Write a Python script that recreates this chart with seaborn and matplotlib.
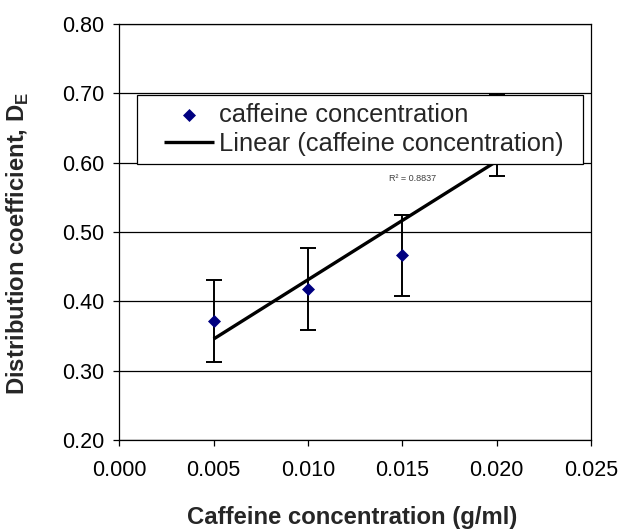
import matplotlib
matplotlib.use("Agg")
import matplotlib.pyplot as plt
from matplotlib.collections import PathCollection
from matplotlib.lines import Line2D
from matplotlib.legend_handler import HandlerLine2D, HandlerPathCollection
import seaborn as sns
import numpy as np
import pandas as pd

# ---- data ----
conc = [0.005, 0.010, 0.015, 0.020]
dist = [0.371, 0.418, 0.466, 0.640]
err = [0.059, 0.059, 0.058, 0.059]
x_ticks = [0.000, 0.005, 0.010, 0.015, 0.020, 0.025]
y_ticks = [0.20, 0.30, 0.40, 0.50, 0.60, 0.70, 0.80]
series_label = "caffeine concentration"
trend_label = "Linear (caffeine concentration)"
r2_text = "R² = 0.8837"

df = pd.DataFrame({"conc": conc, "dist": dist, "err": err})

sns.set_style("white")
plt.rcParams["font.family"] = ["Liberation Sans", "DejaVu Sans"]
plt.rcParams["mathtext.fontset"] = "custom"
plt.rcParams["mathtext.rm"] = "Liberation Sans"
plt.rcParams["mathtext.bf"] = "Liberation Sans:bold"

fig = plt.figure(figsize=(6.21, 5.30), dpi=100)
ax = fig.add_axes([0.192, 0.170, 0.760, 0.785])

# grid lines
for yv in y_ticks:
    ax.axhline(yv, color="black", lw=0.9, zorder=0.5)

# error bars
ax.errorbar(df["conc"], df["dist"], yerr=df["err"], fmt="none", ecolor="black",
            elinewidth=1.4, capsize=5.8, capthick=1.4, zorder=2)
# points
sns.scatterplot(data=df, x="conc", y="dist", marker="D", color="#000080", s=44,
                linewidth=0, ax=ax, zorder=3, label=series_label)
# linear trendline
sns.regplot(data=df, x="conc", y="dist", ci=None, scatter=False, truncate=True,
            color="black", line_kws=dict(lw=2.4, zorder=4, solid_capstyle="butt"),
            ax=ax, label=trend_label)

ax.text(0.01429, 0.577, r2_text, fontsize=6.5, color="#404040", ha="left", va="center")

ax.set_xlim(0.0, 0.025)
ax.set_ylim(0.2, 0.8)
ax.set_xticks(x_ticks)
ax.set_yticks(y_ticks)
ax.set_xticklabels([f"{v:.3f}" for v in x_ticks])
ax.set_yticklabels([f"{v:.2f}" for v in y_ticks])
ax.tick_params(axis="both", which="major", direction="out", length=4.3, width=0.9,
               color="black", labelsize=15.5, labelcolor="black", pad=6.5)
ax.tick_params(axis="x", pad=10)
ax.tick_params(left=True, bottom=True)
for s in ax.spines.values():
    s.set_visible(True)
    s.set_color("black")
    s.set_linewidth(0.9)

ax.set_xlabel("Caffeine concentration (g/ml)", fontsize=17.2, fontweight="bold")
ax.set_ylabel(r"Distribution coefficient, D$_\mathbf{E}$", fontsize=17.2, fontweight="bold")
ax.xaxis.set_label_coords(0.4927, -0.160)
ax.yaxis.set_label_coords(-0.187, 0.472)

handles, labels = ax.get_legend_handles_labels()
hmap = {PathCollection: HandlerPathCollection(xpad=0.75),
        Line2D: HandlerLine2D(xpad=0.75)}
leg = ax.legend(handles, labels, loc="upper left",
                bbox_to_anchor=(0.0375, 0.660, 0.9455, 0.1686), mode="expand",
                borderaxespad=0, fontsize=18.4, frameon=True, fancybox=False,
                shadow=False, framealpha=1, edgecolor="black", labelspacing=0.2,
                borderpad=0.3, handlelength=2.7, handletextpad=0.23,
                handler_map=hmap)
leg.get_frame().set_linewidth(0.9)
leg.set_zorder(10)

fig.savefig("out.png", dpi=100)
